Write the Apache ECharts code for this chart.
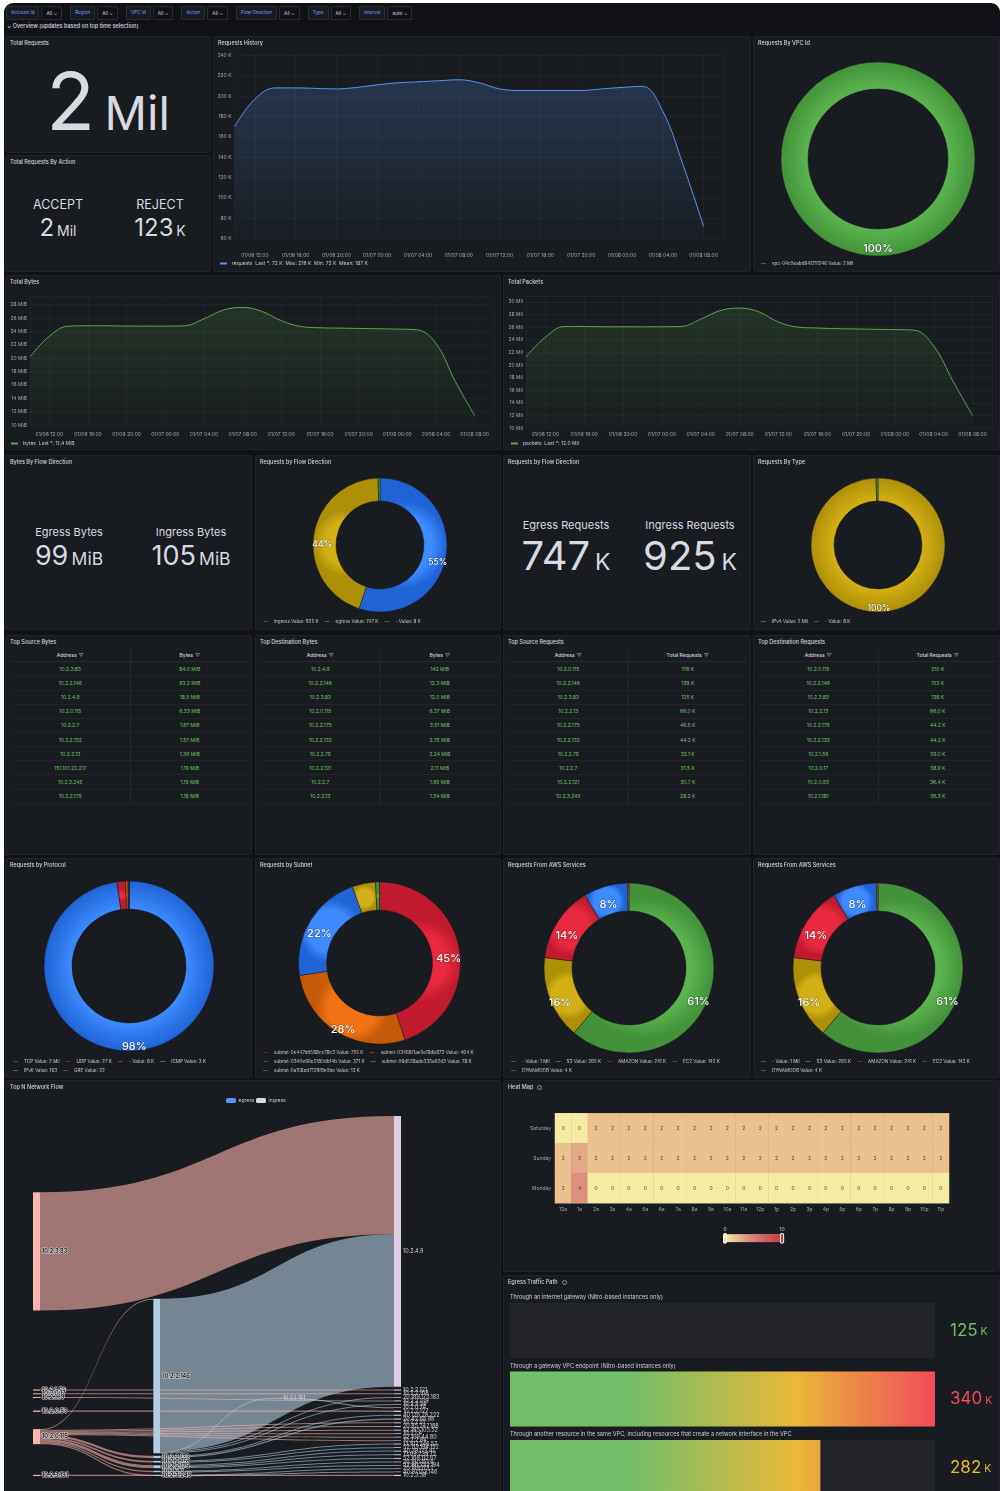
<!DOCTYPE html>
<html>
<head>
<meta charset="utf-8">
<title>VPC Flow Logs</title>
<script src="https://cdn.jsdelivr.net/npm/echarts@6.0.0/dist/echarts.min.js"></script>
<style>
  html, body { margin:0; padding:0; width:1003px; height:1491px; overflow:hidden; background:#ffffff; font-family: Inter, "Noto Sans", sans-serif; }
  #dash { position:absolute; left:4px; top:3px; width:996px; height:1520px; background:#111217; border-radius:9px; }
  .panel { position:absolute; background:#181b1f; border:1px solid #202327; border-radius:2px; box-sizing:border-box; overflow:hidden; }
  .ptitle { position:absolute; left:4px; top:3px; font-size:5.5px; color:#d3d4de; font-weight:500; z-index:2; white-space:nowrap; }
  .ptitle .info { display:inline-block; margin-left:4px; width:5px; height:5px; border:0.6px solid #8e909a; border-radius:50%; box-sizing:border-box; vertical-align:middle; }
  .chart { position:absolute; left:0; top:0; width:100%; height:100%; }
  .stat { position:absolute; color:#d8d9e3; white-space:nowrap; text-align:center; line-height:1; }
  .tbl { position:absolute; left:5px; top:13px; width:238px; border-collapse:collapse; table-layout:fixed; font-size:5px; }
  .tbl th { color:#d0d1db; font-weight:500; height:12.3px; padding:0; border-bottom:1px solid #25282d; }
  .tbl td { color:#6fc465; text-align:center; height:13.15px; padding:0; border-bottom:1px solid #202328; }
  .tbl td:first-child, .tbl th:first-child { border-right:1px solid #25282d; }
  .tbl .flt { color:#9a9ca6; font-size:5px; margin-left:2px; }
  #vars { position:absolute; left:6px; top:6px; height:13px; display:flex; align-items:center; z-index:3; }
  .vgrp { display:flex; margin-right:8px; }
  .vlab { height:12px; line-height:12px; padding:0 4px; font-size:4.6px; color:#6e9fff; background:#181b1f; border:1px solid #2a2d33; border-radius:1px; }
  .vval { height:12px; line-height:12px; padding:0 4px; margin-left:2px; font-size:4.8px; color:#ccccdc; background:#111217; border:1px solid #2a2d33; border-radius:1px; }
  #rowtitle { position:absolute; left:7px; top:23px; font-size:5.5px; color:#d8d9e3; font-weight:500; z-index:3; }
</style>
</head>
<body>
<div id="dash"></div>
<div id="vars"></div>
<div id="rowtitle">⌄ Overview (updates based on top time selection)</div>
<script>
// ---------- dashboard variables ----------
const varNames  = ['Account Id', 'Region', 'VPC Id', 'Action', 'Flow Direction', 'Type', 'Interval'];
const varValues = ['All', 'All', 'All', 'All', 'All', 'All', 'auto'];

// ---------- time series (hours since 01/06 00:00) ----------
const historyHours = [10,12,14,16,18,20,22,24,26,28,30,32,34,36,38,40,42,44,46,48,50,52,54,56];
const requestsK   = [170,197,208,208,207.5,207,208.5,211,213,214,215,216,213,207,205.5,205.5,205.5,205.5,207,208.5,209.5,185,132,72];
const bytesMiB    = [20.2,23.3,24.8,24.85,24.85,24.8,24.8,24.8,24.85,25.9,27.2,27.6,27.0,25.6,24.75,24.55,24.5,24.45,24.4,24.35,24.25,22.2,16.5,11.4];
const packetsMil  = [21.3,24.4,26.1,26.1,26.05,26.05,26.05,26.05,26.1,27.25,28.6,29.0,28.4,26.8,26.0,25.85,25.75,25.7,25.65,25.6,25.5,23.0,17.4,12.0];
const requestsMeanK = 187;

// ---------- totals ----------
const totalRequests = 1680000;
const actionNames = ['ACCEPT', 'REJECT'];
const actionValues = [1557000, 123000];
const bytesFlowNames = ['Egress Bytes', 'Ingress Bytes'];
const bytesFlowMiB = [99, 105];
const reqFlowNames = ['Egress Requests', 'Ingress Requests'];
const reqFlowValues = [747000, 925000];

// ---------- donuts ----------
const vpcNames = ['vpc-04c0eabd64f211246'];
const vpcValues = [1680000];
const flowNames = ['ingress', 'egress', '-'];
const flowValues = [925000, 747000, 8000];
const typeNames = ['IPv4', '-'];
const typeValues = [1672000, 8000];
const protoNames = ['TCP', 'UDP', '-', 'ICMP', 'IPv6', 'GRE'];
const protoValues = [1642000, 27000, 8000, 3000, 163, 22];
const subnetNames = ['subnet-0e447dd588ce78c3', 'subnet-03468f1ae5e18db873', 'subnet-0340e66e2180db14b', 'subnet-06d528ade335a62d3', 'subnet-0a158ed7129f9e0be'];
const subnetValues = [755000, 464000, 371000, 78000, 13000];
const awsNames = ['-', 'S3', 'AMAZON', 'EC2', 'DYNAMODB'];
const awsValues = [1028000, 265000, 241000, 142000, 4000];

// ---------- top-N tables ----------
const srcBytesAddr = ['10.2.3.83','10.2.2.146','10.2.4.9','10.2.0.115','10.2.2.7','10.2.2.132','10.2.2.13','151.101.22.217','10.2.3.245','10.2.2.175'];
const srcBytesMiB  = [84.0, 63.2, 18.5, 6.33, 1.67, 1.57, 1.36, 1.19, 1.19, 1.18];
const dstBytesAddr = ['10.2.4.9','10.2.2.146','10.2.3.83','10.2.0.115','10.2.2.175','10.2.2.132','10.2.2.75','10.2.2.121','10.2.2.7','10.2.2.13'];
const dstBytesMiB  = [142, 12.3, 12.0, 6.37, 3.51, 2.75, 2.24, 2.11, 1.65, 1.34];
const srcReqAddr = ['10.2.0.115','10.2.2.146','10.2.3.83','10.2.2.13','10.2.2.175','10.2.2.132','10.2.2.75','10.2.2.7','10.2.2.121','10.2.3.245'];
const srcReqK    = [176, 139, 125, 66.0, 46.5, 44.2, 32.1, 31.5, 30.7, 28.2];
const dstReqAddr = ['10.2.0.115','10.2.2.146','10.2.3.83','10.2.2.13','10.2.2.175','10.2.2.132','10.2.1.56','10.2.0.17','10.2.0.53','10.2.1.181'];
const dstReqK    = [210, 153, 138, 66.0, 44.2, 44.2, 39.0, 38.9, 36.4, 36.3];

// ---------- network flow sankey ----------
const sankeyNodes = [
  '10.2.3.83','10.2.1.56','10.2.0.17','10.2.1.19','10.2.0.53','10.2.0.115','10.2.3.191',
  '10.2.2.146','10.2.2.132','10.2.2.75','10.2.2.7','10.2.2.175','10.2.3.245',
  '10.2.1.181',
  '10.2.4.9','10.2.2.121','10.2.2.168','10.2.2.139','10.2.2.127','10.2.2.13','20.85.247.188','10.2.1.4',
  '52.185.105.52','52.109.44.80','10.2.2.84','40.126.28.222','20.42.65.88','13.107.246.57','52.113.194.132',
  '20.190.151.6','52.96.222.194','40.79.173.41','13.69.239.72','52.168.112.67','20.189.173.1','40.97.153.146',
  '10.2.0.74','20.189.173.183','10.2.3.24','10.2.3.58'
];
const sankeyLinks = [
  ['10.2.3.83','10.2.4.9',62], ['10.2.2.146','10.2.4.9',80], ['10.2.0.115','10.2.2.146',0.4],
  ['10.2.1.56','10.2.2.121',0.6], ['10.2.0.17','10.2.2.168',0.5], ['10.2.1.19','10.2.2.139',0.5], ['10.2.0.53','10.2.2.127',0.7],
  ['10.2.0.115','10.2.2.132',1.2], ['10.2.0.115','10.2.2.75',0.9], ['10.2.0.115','10.2.2.7',0.7], ['10.2.0.115','10.2.2.175',1.5],
  ['10.2.0.115','10.2.3.245',0.6], ['10.2.0.115','10.2.2.13',0.5], ['10.2.0.115','20.85.247.188',0.5], ['10.2.0.115','10.2.1.4',0.4],
  ['10.2.0.115','52.185.105.52',0.5], ['10.2.0.115','52.109.44.80',0.4], ['10.2.0.115','10.2.2.84',0.3],
  ['10.2.2.132','40.126.28.222',0.6], ['10.2.2.132','20.42.65.88',0.6], ['10.2.2.75','13.107.246.57',0.5], ['10.2.2.75','52.113.194.132',0.4],
  ['10.2.2.7','20.190.151.6',0.4], ['10.2.2.7','52.96.222.194',0.3], ['10.2.2.175','40.79.173.41',0.5], ['10.2.2.175','13.69.239.72',0.5],
  ['10.2.2.175','52.168.112.67',0.5], ['10.2.3.245','20.189.173.1',0.3], ['10.2.3.245','40.97.153.146',0.3],
  ['10.2.2.146','10.2.1.181',0.3], ['10.2.1.181','10.2.0.74',0.3], ['10.2.2.146','20.189.173.183',0.4], ['10.2.2.146','10.2.3.24',0.3],
  ['10.2.3.191','10.2.3.58',0.6]
];
const sankeyLegend = ['egress', 'ingress'];

// ---------- heat map ----------
const heatDays = ['Saturday', 'Sunday', 'Monday'];
const heatHours = ['12a','1a','2a','3a','4a','5a','6a','7a','8a','9a','10a','11a','12p','1p','2p','3p','4p','5p','6p','7p','8p','9p','10p','11p'];
const heatSaturday = [0,0,2,2,2,2,2,2,2,2,2,2,2,2,2,2,2,2,2,2,2,2,2,2];
const heatSunday   = [2,3,2,2,2,2,2,2,2,2,2,2,2,2,2,2,2,2,2,2,2,2,2,2];
const heatMonday   = [2,4,0,0,0,0,0,0,0,0,0,0,0,0,0,0,0,0,0,0,0,0,0,0];

// ---------- egress traffic path ----------
const egressPaths = [
  'Through an internet gateway (Nitro-based instances only)',
  'Through a gateway VPC endpoint (Nitro-based instances only)',
  'Through another resource in the same VPC, including resources that create a network interface in the VPC'
];
const egressValues = [125000, 340000, 282000];
const egressColors = ['#73bf69', '#f2495c', '#eab839'];

// ================= helpers =================
const H = 3600e3;
const base = new Date(2024, 0, 6).getTime();
const AXC = '#a3a6b1';
const GRID = 'rgba(204,204,220,0.07)';
const FONT = 'Inter';
const PANEL_BG = '#181b1f';

function fmtTime(v) {
  const d = new Date(v), p = n => String(n).padStart(2, '0');
  return p(d.getMonth() + 1) + '/' + p(d.getDate()) + ' ' + p(d.getHours()) + ':' + p(d.getMinutes());
}
function fmtCount(v) {
  if (v >= 1e6) return Math.round(v / 1e6) + ' Mil';
  if (v >= 1e3) return Math.round(v / 1e3) + ' K';
  return String(v);
}
function splitUnit(v) {
  if (v >= 1e6) return [String(Math.round(v / 1e6)), 'Mil'];
  if (v >= 1e3) return [String(Math.round(v / 1e3)), 'K'];
  return [String(v), ''];
}

function panel(x, y, w, h, title, info) {
  const d = document.createElement('div');
  d.className = 'panel';
  d.style.left = x + 'px'; d.style.top = y + 'px';
  d.style.width = w + 'px'; d.style.height = h + 'px';
  if (title) {
    const t = document.createElement('div');
    t.className = 'ptitle';
    t.textContent = title;
    if (info) { const i = document.createElement('span'); i.className = 'info'; t.appendChild(i); }
    d.appendChild(t);
  }
  document.body.appendChild(d);
  return d;
}
function chartIn(p) {
  const c = document.createElement('div');
  c.className = 'chart';
  p.appendChild(c);
  return echarts.init(c, null, { renderer: 'canvas' });
}
function statText(p, cx, baseline, big, small, bigSize, smallSize) {
  const s = document.createElement('div');
  s.className = 'stat';
  s.style.left = (cx - 100) + 'px';
  s.style.width = '200px';
  s.style.top = (baseline - bigSize * 0.88) + 'px';
  s.innerHTML = '<span style="font-size:' + bigSize + 'px">' + big + '</span>' +
    (small ? '<span style="font-size:' + smallSize + 'px;margin-left:' + (bigSize * 0.12) + 'px">' + small + '</span>' : '');
  p.appendChild(s);
}
function labelText(p, cx, baseline, text, size) {
  const s = document.createElement('div');
  s.className = 'stat';
  s.style.left = (cx - 100) + 'px';
  s.style.width = '200px';
  s.style.top = (baseline - size * 0.88) + 'px';
  s.style.fontSize = size + 'px';
  s.textContent = text;
  p.appendChild(s);
}

// ================= variables row =================
const vars = document.getElementById('vars');
varNames.forEach((n, i) => {
  const g = document.createElement('div'); g.className = 'vgrp';
  g.innerHTML = '<div class="vlab">' + n + '</div><div class="vval">' + varValues[i] + ' ⌄</div>';
  vars.appendChild(g);
});

// ================= time series panels =================
function tsChart(p, c) {
  const ch = chartIn(p);
  ch.setOption({
    animation: false,
    textStyle: { fontFamily: FONT },
    grid: { left: c.grid[0], right: c.grid[1], top: c.grid[2], bottom: c.grid[3] },
    xAxis: {
      type: 'time', min: base + c.x0 * H, max: base + c.x1 * H,
      minInterval: 4 * H, maxInterval: 4 * H,
      axisLine: { show: false }, axisTick: { show: false },
      axisLabel: { formatter: v => fmtTime(v), showMinLabel: false, showMaxLabel: false, fontSize: 5, color: AXC, margin: c.xMargin, hideOverlap: false, fontFamily: FONT },
      splitLine: { show: true, lineStyle: { color: GRID, width: 0.6 } }
    },
    yAxis: {
      type: 'value', min: c.yMin, max: c.yMax, interval: c.yStep,
      axisLine: { show: false }, axisTick: { show: false },
      axisLabel: { formatter: c.yFmt, fontSize: 5, color: AXC, margin: 3, showMaxLabel: c.showMax, fontFamily: FONT },
      splitLine: { lineStyle: { color: GRID, width: 0.6 } }
    },
    legend: {
      left: c.leg[0], bottom: c.leg[1], itemWidth: 7, itemHeight: 2, icon: 'rect', padding: 0,
      textStyle: { color: '#c8c9d3', fontSize: 5, fontFamily: FONT }, formatter: () => c.legendText, data: [c.name]
    },
    series: [{
      name: c.name, type: 'line', smooth: 0.4, symbol: 'none', data: c.data,
      lineStyle: { color: c.color, width: 1 }, itemStyle: { color: c.color },
      areaStyle: { color: new echarts.graphic.LinearGradient(0, 0, 0, 1, [{ offset: 0, color: c.fillTop }, { offset: 1, color: c.fillBottom }]) }
    }]
  });
}

// ---- row 1 ----
const pTotal = panel(5, 36, 206, 117, 'Total Requests');
const tr = splitUnit(totalRequests);
statText(pTotal, 102, 94, tr[0], tr[1], 80, 47);

const pAction = panel(5, 155, 206, 117, 'Total Requests By Action');
[52, 154].forEach((cx, i) => {
  labelText(pAction, cx, 54, actionNames[i], 12.5);
  const u = splitUnit(actionValues[i]);
  statText(pAction, cx, 81, u[0], u[1], 24, 14);
});

const pHist = panel(213, 36, 538, 236, 'Requests History');
const reqMax = Math.max(...requestsK), reqMin = Math.min(...requestsK), reqLast = requestsK[requestsK.length - 1];
tsChart(pHist, {
  name: 'requests', color: '#5794f2',
  data: historyHours.map((h, i) => [base + h * H, requestsK[i] * 1000]),
  x0: 10, x1: 58, grid: [20.5, 26, 18.3, 32.3], xMargin: 14,
  yMin: 60000, yMax: 240000, yStep: 20000, yFmt: v => (v / 1000) + ' K', showMax: true,
  leg: [6, 5],
  legendText: 'requests  Last *: ' + reqLast + ' K  Max: ' + reqMax + ' K  Min: ' + reqMin + ' K  Mean: ' + requestsMeanK + ' K',
  fillTop: 'rgba(87,148,242,0.32)', fillBottom: 'rgba(87,148,242,0.03)'
});

// donut with the percentage text hung just below its slice's mid-ring point
function donut(p, c) {
  const ch = chartIn(p);
  const total = c.values.reduce((a, b) => a + b, 0);
  ch.setOption({
    animation: false,
    textStyle: { fontFamily: FONT },
    legend: {
      left: 5, bottom: c.legBottom, width: c.legWidth, itemWidth: 7, itemHeight: 2.5, icon: 'rect', itemGap: 4, padding: 0,
      textStyle: { color: '#c8c9d3', fontSize: 4.6, fontFamily: FONT, lineHeight: 5 },
      formatter: n => n + ' Value: ' + fmtCount(c.values[c.names.indexOf(n)])
    },
    series: [{
      type: 'pie', center: c.center, radius: c.radius, startAngle: 90, clockwise: true,
      avoidLabelOverlap: false, emphasis: { disabled: true },
      itemStyle: { borderColor: PANEL_BG, borderWidth: 0.5 },
      label: {
        show: true, position: 'inside', fontSize: c.labelSize, color: '#ffffff', fontWeight: 500, fontFamily: FONT,
        textBorderColor: 'rgba(0,0,0,0.35)', textBorderWidth: 1, offset: [0, c.labelDy],
        formatter: pp => { const pc = pp.value / total * 100; return pc >= 5 ? Math.round(pc) + '%' : ''; }
      },
      labelLine: { show: false },
      data: c.names.map((n, i) => ({
        name: n, value: c.values[i],
        itemStyle: { color: new echarts.graphic.RadialGradient(0.5, 0.5, 0.5, [{ offset: c.radius[0] / c.radius[1], color: c.colors[i][0] }, { offset: 1, color: c.colors[i][1] }]) }
      }))
    }]
  });
}
const GREEN = ['#5bb44f', '#43923a'], YELLOW = ['#d2b016', '#ad8f08'], BLUE = ['#3d8bff', '#1f63d6'],
      RED = ['#e8283e', '#c21b30'], ORANGE = ['#f07212', '#c65a08'], LBLUE = ['#8ab8ff', '#6a98e0'];

const pVpc = panel(753, 36, 247, 236, 'Requests By VPC Id');
donut(pVpc, { names: vpcNames, values: vpcValues, colors: [GREEN], center: [124, 122], radius: [70, 97], labelSize: 11, labelDy: 3, legBottom: 5, legWidth: 230 });

// ---- row 2 ----
const pBytes = panel(5, 275, 496, 175, 'Total Bytes');
tsChart(pBytes, {
  name: 'bytes', color: '#56a64b',
  data: historyHours.map((h, i) => [base + h * H, bytesMiB[i]]),
  x0: 10, x1: 58, grid: [24, 6, 20.7, 24], xMargin: 7,
  yMin: 10, yMax: 29.2, yStep: 2, yFmt: v => v + ' MiB', showMax: false,
  leg: [5, 3],
  legendText: 'bytes  Last *: ' + bytesMiB[bytesMiB.length - 1] + ' MiB',
  fillTop: 'rgba(86,166,75,0.25)', fillBottom: 'rgba(86,166,75,0.03)'
});
const pPackets = panel(503, 275, 497, 175, 'Total Packets');
tsChart(pPackets, {
  name: 'packets', color: '#56a64b',
  data: historyHours.map((h, i) => [base + h * H, packetsMil[i]]),
  x0: 10, x1: 58, grid: [22, 7, 20.7, 20.7], xMargin: 4,
  yMin: 10, yMax: 30.8, yStep: 2, yFmt: v => v + ' Mil', showMax: false,
  leg: [7, 3],
  legendText: 'packets  Last *: ' + packetsMil[packetsMil.length - 1].toFixed(1) + ' Mil',
  fillTop: 'rgba(86,166,75,0.25)', fillBottom: 'rgba(86,166,75,0.03)'
});

// ---- row 3 ----
const pBytesFlow = panel(5, 455, 247, 175, 'Bytes By Flow Direction');
[63, 185].forEach((cx, i) => {
  labelText(pBytesFlow, cx, 81, bytesFlowNames[i], 11);
  statText(pBytesFlow, cx, 110, String(bytesFlowMiB[i]), 'MiB', 27, 17.5);
});
const pFlowDonut = panel(255, 455, 246, 175, 'Requests by Flow Direction');
donut(pFlowDonut, { names: flowNames, values: flowValues, colors: [BLUE, YELLOW, GREEN], center: [124, 89], radius: [44, 67], labelSize: 8.5, labelDy: 8, legBottom: 5, legWidth: 230 });
const pReqFlow = panel(503, 455, 248, 175, 'Requests by Flow Direction');
[62, 186].forEach((cx, i) => {
  labelText(pReqFlow, cx, 74, reqFlowNames[i], 11);
  const u = splitUnit(reqFlowValues[i]);
  statText(pReqFlow, cx, 115, u[0], u[1], 40, 23);
});
const pType = panel(753, 455, 247, 175, 'Requests By Type');
donut(pType, { names: typeNames, values: typeValues, colors: [YELLOW, GREEN], center: [124, 89], radius: [44, 67], labelSize: 8.5, labelDy: 5, legBottom: 5, legWidth: 230 });

// ---- row 4: tables ----
function table(p, head, addr, vals, fmt) {
  const t = document.createElement('table');
  t.className = 'tbl';
  let h = '<thead><tr><th>Address<span class="flt">▽</span></th><th>' + head + '<span class="flt">▽</span></th></tr></thead><tbody>';
  addr.forEach((a, i) => { h += '<tr><td>' + a + '</td><td>' + fmt(vals[i]) + '</td></tr>'; });
  t.innerHTML = h + '</tbody>';
  p.appendChild(t);
}
const mib = v => v.toPrecision(3) + ' MiB';
const kreq = v => v.toPrecision(3) + ' K';
table(panel(5, 635, 247, 220, 'Top Source Bytes'), 'Bytes', srcBytesAddr, srcBytesMiB, mib);
table(panel(255, 635, 246, 220, 'Top Destination Bytes'), 'Bytes', dstBytesAddr, dstBytesMiB, mib);
table(panel(503, 635, 248, 220, 'Top Source Requests'), 'Total Requests', srcReqAddr, srcReqK, kreq);
table(panel(753, 635, 247, 220, 'Top Destination Requests'), 'Total Requests', dstReqAddr, dstReqK, kreq);

// ---- row 5: donuts ----
donut(panel(5, 858, 247, 220, 'Requests by Protocol'), { names: protoNames, values: protoValues, colors: [BLUE, RED, ORANGE, LBLUE, YELLOW, GREEN], center: [123, 107], radius: [57, 85], labelSize: 11, labelDy: 7, legBottom: 4, legWidth: 205 });
donut(panel(255, 858, 246, 220, 'Requests by Subnet'), { names: subnetNames, values: subnetValues, colors: [RED, ORANGE, BLUE, YELLOW, GREEN], center: [123.5, 104], radius: [53, 81], labelSize: 11, labelDy: 7, legBottom: 4, legWidth: 236 });
donut(panel(503, 858, 248, 220, 'Requests From AWS Services'), { names: awsNames, values: awsValues, colors: [GREEN, YELLOW, RED, BLUE, ORANGE], center: [125, 109], radius: [57, 85], labelSize: 11, labelDy: 8, legBottom: 4, legWidth: 232 });
donut(panel(753, 858, 247, 220, 'Requests From AWS Services'), { names: awsNames, values: awsValues, colors: [GREEN, YELLOW, RED, BLUE, ORANGE], center: [124, 109], radius: [57, 85], labelSize: 11, labelDy: 8, legBottom: 4, legWidth: 232 });

// ---- row 6: sankey ----
const pSankey = panel(5, 1080, 496, 430, 'Top N Network Flow');
const sk = chartIn(pSankey);
const darkLabel = { color: '#1a1a1a', textBorderColor: '#d9d9d9', textBorderWidth: 1.2, fontWeight: 'bold' };
sk.setOption({
  animation: false,
  textStyle: { fontFamily: FONT },
  graphic: [
    { type: 'rect', left: 220, top: 17, shape: { width: 10, height: 5, r: 1.5 }, style: { fill: '#5794f2' } },
    { type: 'text', left: 232.5, top: 17.3, style: { text: sankeyLegend[0], fill: '#c8c9d3', fontSize: 5, fontFamily: FONT } },
    { type: 'rect', left: 250, top: 17, shape: { width: 10, height: 5, r: 1.5 }, style: { fill: '#d9d9d9' } },
    { type: 'text', left: 262.5, top: 17.3, style: { text: sankeyLegend[1], fill: '#c8c9d3', fontSize: 5, fontFamily: FONT } }
  ],
  series: [{
    type: 'sankey', left: 27, top: 35, right: 99, bottom: 33,
    nodeWidth: 7, nodeGap: 2.7, nodeAlign: 'justify', draggable: false,
    emphasis: { disabled: true },
    label: { show: true, position: 'right', distance: 2, fontSize: 5.5, color: '#d0d0d8', fontFamily: FONT },
    lineStyle: { curveness: 0.5 },
    levels: [
      { depth: 0, itemStyle: { color: '#fbb4ae' }, lineStyle: { color: 'source', opacity: 0.6 }, label: darkLabel },
      { depth: 1, itemStyle: { color: '#b3cde3' }, lineStyle: { color: 'source', opacity: 0.6 }, label: darkLabel },
      { depth: 2, itemStyle: { color: '#ccebc5' }, lineStyle: { color: 'source', opacity: 0.6 } },
      { depth: 3, itemStyle: { color: '#decbe4' } }
    ],
    data: sankeyNodes.map(n => ({ name: n })),
    links: sankeyLinks.map(([s, t, v]) => ({ source: s, target: t, value: v }))
  }]
});

// ---- heat map ----
const pHeat = panel(503, 1080, 497, 192, 'Heat Map', true);
const hm = chartIn(pHeat);
const heatRows = [heatSaturday, heatSunday, heatMonday];
const heatData = [];
heatRows.forEach((row, d) => row.forEach((v, h) => heatData.push([h, d, v])));
hm.setOption({
  animation: false,
  textStyle: { fontFamily: FONT },
  grid: { left: 51, right: 50, top: 32.3, height: 89.7 },
  xAxis: { type: 'category', data: heatHours, axisLabel: { fontSize: 5, color: AXC, interval: 0, margin: 4 }, axisTick: { length: 2, lineStyle: { color: '#888' } }, axisLine: { lineStyle: { color: '#888', width: 0.5 } }, splitArea: { show: false } },
  yAxis: { type: 'category', data: heatDays, inverse: true, axisLabel: { fontSize: 5, color: AXC, margin: 4 }, axisTick: { length: 2, lineStyle: { color: '#888' } }, axisLine: { lineStyle: { color: '#888', width: 0.5 } } },
  visualMap: {
    type: 'continuous', min: 0, max: 10, calculable: true, orient: 'horizontal', left: 204, top: 131,
    itemWidth: 8, itemHeight: 57, text: null, realtime: false,
    inRange: { color: ['#f5eba2', '#e8c18e', '#dc9180', '#d4726a', '#cd5454', '#c7353d'] },
    textStyle: { color: '#c8c9d3', fontSize: 5 }, handleSize: '110%'
  },
  series: [{ type: 'heatmap', data: heatData, label: { show: true, fontSize: 5, color: '#4a4a4a' }, emphasis: { disabled: true } }]
});

// ---- egress traffic path ----
const pEgress = panel(503, 1275, 497, 230, 'Egress Traffic Path', true);
const eg = chartIn(pEgress);
const egGrad = new echarts.graphic.LinearGradient(6, 0, 433, 0, [
  { offset: 0, color: '#73bf69' }, { offset: 0.28, color: '#73bf69' },
  { offset: 0.67, color: '#eab839' }, { offset: 1, color: '#f2495c' }
], true);
const egKeys = ['g', 'r', 'y'];
const egRich = {};
egKeys.forEach((k, i) => { egRich[k] = { color: egressColors[i], fontSize: 17, fontFamily: FONT }; egRich[k + 'u'] = { color: egressColors[i], fontSize: 10.5, fontFamily: FONT, padding: [3, 0, 0, 0] }; });
eg.setOption({
  animation: false,
  textStyle: { fontFamily: FONT },
  grid: { left: 6, right: 64, top: 20.25, height: 205.5 },
  xAxis: { type: 'value', min: 125000, max: 340000, show: false },
  yAxis: [
    { type: 'category', data: egressPaths, inverse: true, show: false },
    { type: 'category', data: egressPaths, inverse: true, position: 'right', axisLine: { show: false }, axisTick: { show: false },
      axisLabel: { margin: 15, align: 'left', rich: egRich,
        formatter: (v, i) => { const u = splitUnit(egressValues[i]); return '{' + egKeys[i] + '|' + u[0] + '}{' + egKeys[i] + 'u| ' + u[1] + '}'; } } }
  ],
  series: [{
    type: 'bar', yAxisIndex: 0, data: egressValues, barCategoryGap: '20%', barMinHeight: 1,
    showBackground: true, backgroundStyle: { color: '#232428' },
    itemStyle: { color: egGrad },
    label: { show: true, position: [0, -8.6], formatter: p => p.name, color: '#ccccdc', fontSize: 5.6, fontFamily: FONT, align: 'left', verticalAlign: 'top' },
    emphasis: { disabled: true }
  }]
});
</script>
</body>
</html>
